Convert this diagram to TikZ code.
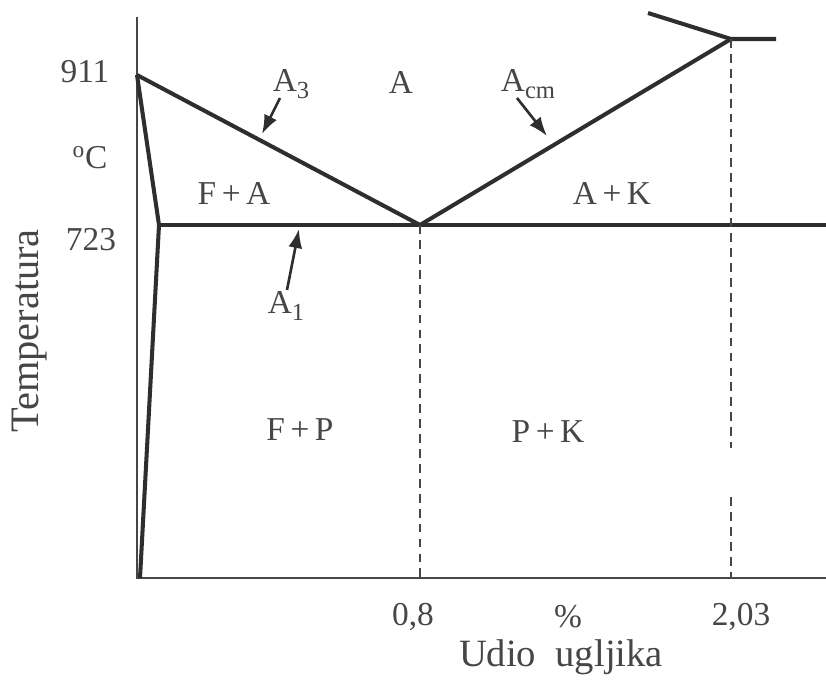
\documentclass[tikz,border=0pt]{standalone}
\usepackage{fontspec}
\setmainfont{Liberation Serif}
\usetikzlibrary{arrows.meta}
\definecolor{dunkel}{HTML}{2E2E2E}
\definecolor{grau}{HTML}{464646}
\newcommand{\tief}[1]{\raisebox{-0.45ex}{\fontsize{14}{14}\selectfont #1}}
\tikzset{
  kurve/.style={dunkel,line width=2.3pt,line join=miter},
  achse/.style={grau,line width=1.4pt},
  hilf/.style={grau,line width=1.3pt,dash pattern=on 5pt off 3.5pt},
  pfeil/.style={-{Latex[length=3.8mm,width=2.8mm]},dunkel,line width=1.5pt},
  lab/.style={grau,font=\fontsize{19}{22}\selectfont,inner sep=0pt},
  titel/.style={grau,font=\fontsize{22}{26}\selectfont,inner sep=0pt},
}

\begin{document}
\begin{tikzpicture}[x=0.02cm,y=-0.02cm]
  \useasboundingbox (0,0) rectangle (826,684);
  % Eckpunkte
  \coordinate (O) at (137,578);
  \coordinate (G) at (137,75);
  \coordinate (P) at (159,225);
  \coordinate (S) at (420,225);
  \coordinate (E) at (731,39);
  \coordinate (Sx) at (420,578);
  \coordinate (Ex) at (731,578);
  % Achsen
  \draw[achse] (137,17) -- (O) -- (826,578);
  % Linien
  \draw[kurve] (G) -- (S) -- (E);
  \draw[kurve] (G) -- (P) -- (140,578);
  \draw[kurve] (P) -- (826,225);
  \draw[kurve] (648,13) -- (E) -- (776,39);
  \draw[hilf] (S) -- (Sx);
  \draw[hilf] (E) -- (731,448);
  \draw[hilf] (731,497) -- (Ex);
  % Beschriftung
  \node[lab] (t911) at (85,72) {911};
  \node[lab] (tgrad) at (90,158) {\textsuperscript{o}C};
  \node[lab] (t723) at (91,240) {723};
  \node[titel,rotate=90,font=\fontsize{23}{26}\selectfont] (temp) at (30,331) {Temperatura};
  \node[lab] (a3) at (291,84) {A\tief{3}};
  \node[lab] (a) at (401,82) {A};
  \node[lab] (acm) at (528,84) {A\tief{cm}};
  \node[lab] (fa) at (234,193) {F\,+\,A};
  \node[lab] (ak) at (612,193) {A\,+\,K};
  \node[lab] (a1) at (286,306) {A\tief{1}};
  \node[lab] (fp) at (300,430) {F\,+\,P};
  \node[lab] (pk) at (548,432) {P\,+\,K};
  \node[lab] (x08) at (413,617) {0,8};
  \node[lab] (proz) at (568,617) {\%};
  \node[lab] (x203) at (741,617) {2,03};
  \node[titel] (udio) at (561,657) {Udio\ \ ugljika};
  % Pfeile
  \coordinate (a3s) at (280,98);
  \coordinate (a3e) at (262,134);
  \coordinate (a1s) at (287,290);
  \coordinate (a1e) at (299,229);
  \coordinate (acms) at (517,98);
  \coordinate (acme) at (547,136);
  \draw[pfeil] (a3s) -- (a3e);
  \draw[pfeil] (a1s) -- (a1e);
  \draw[pfeil] (acms) -- (acme);
\end{tikzpicture}
\end{document}
